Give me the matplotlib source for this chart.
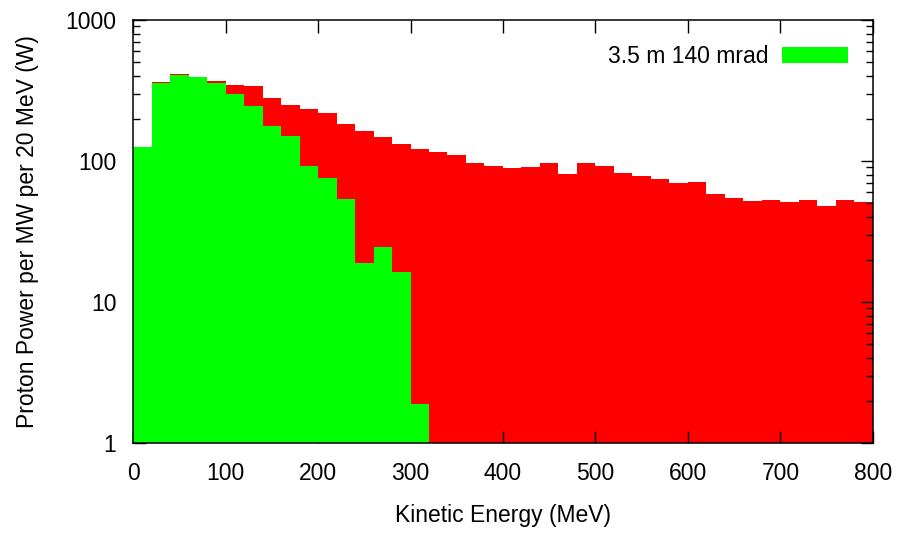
import numpy as np
import matplotlib.pyplot as plt
from matplotlib.ticker import LogLocator, NullFormatter, MultipleLocator

plt.rcParams['font.family'] = ['Liberation Sans', 'DejaVu Sans']

# bin edges: 20 MeV bins from 0 to 800 MeV
bin_left = np.arange(0, 800, 20)

# total proton power per bin (red)
total = [126, 363, 414, 394, 369, 346, 340, 280, 249, 234,
         219, 183, 163, 148, 132, 122, 116, 110, 97, 92,
         89, 91, 97, 81, 97, 92, 82, 78, 75, 70,
         71, 58, 55, 52, 53, 51, 53, 48, 53, 51]

# 3.5 m 140 mrad acceptance (green), only first 16 bins nonzero
accepted = [126, 359, 407, 394, 357, 299, 245, 177, 150, 92,
            76, 54, 19, 24.5, 16.3, 1.9]

fig = plt.figure(figsize=(8.99, 5.34), dpi=100)
ax = fig.add_axes([0.148, 0.1704, 0.823, 0.7921])

ax.bar(bin_left, total, width=20, align='edge', color='#ff0000', linewidth=0, zorder=1)
ax.bar(bin_left[:len(accepted)], accepted, width=20, align='edge', color='#00ff00',
       linewidth=0, zorder=2, label='3.5 m 140 mrad')

ax.set_yscale('log')
ax.set_xlim(0, 800)
ax.set_ylim(1, 1000)

ax.xaxis.set_major_locator(MultipleLocator(100))
ax.yaxis.set_minor_locator(LogLocator(base=10, subs=np.arange(2, 10)))
ax.yaxis.set_minor_formatter(NullFormatter())
ax.set_yticks([1, 10, 100, 1000])
ax.set_yticklabels(['1', '10', '100', '1000'])

ax.tick_params(which='both', direction='in', top=True, right=True, labelsize=16.5)
ax.tick_params(axis='x', pad=14)
ax.tick_params(axis='y', pad=12)
ax.tick_params(which='major', length=9, width=1)
ax.tick_params(which='minor', length=5, width=1)
ax.tick_params(axis='x', which='minor', bottom=False, top=False)
for s in ax.spines.values():
    s.set_linewidth(1.1)
    s.set_zorder(5)

ax.set_xlabel('Kinetic Energy (MeV)', fontsize=16.5, labelpad=13)
ax.set_ylabel('Proton Power per MW per 20 MeV (W)', fontsize=16.5, labelpad=19)

ax.legend(loc='upper right', frameon=False, markerfirst=False, fontsize=16.5,
          handlelength=2.85, handleheight=0.7, handletextpad=0.6,
          borderaxespad=0.75, borderpad=0.35)

fig.savefig('out.png', dpi=100)
